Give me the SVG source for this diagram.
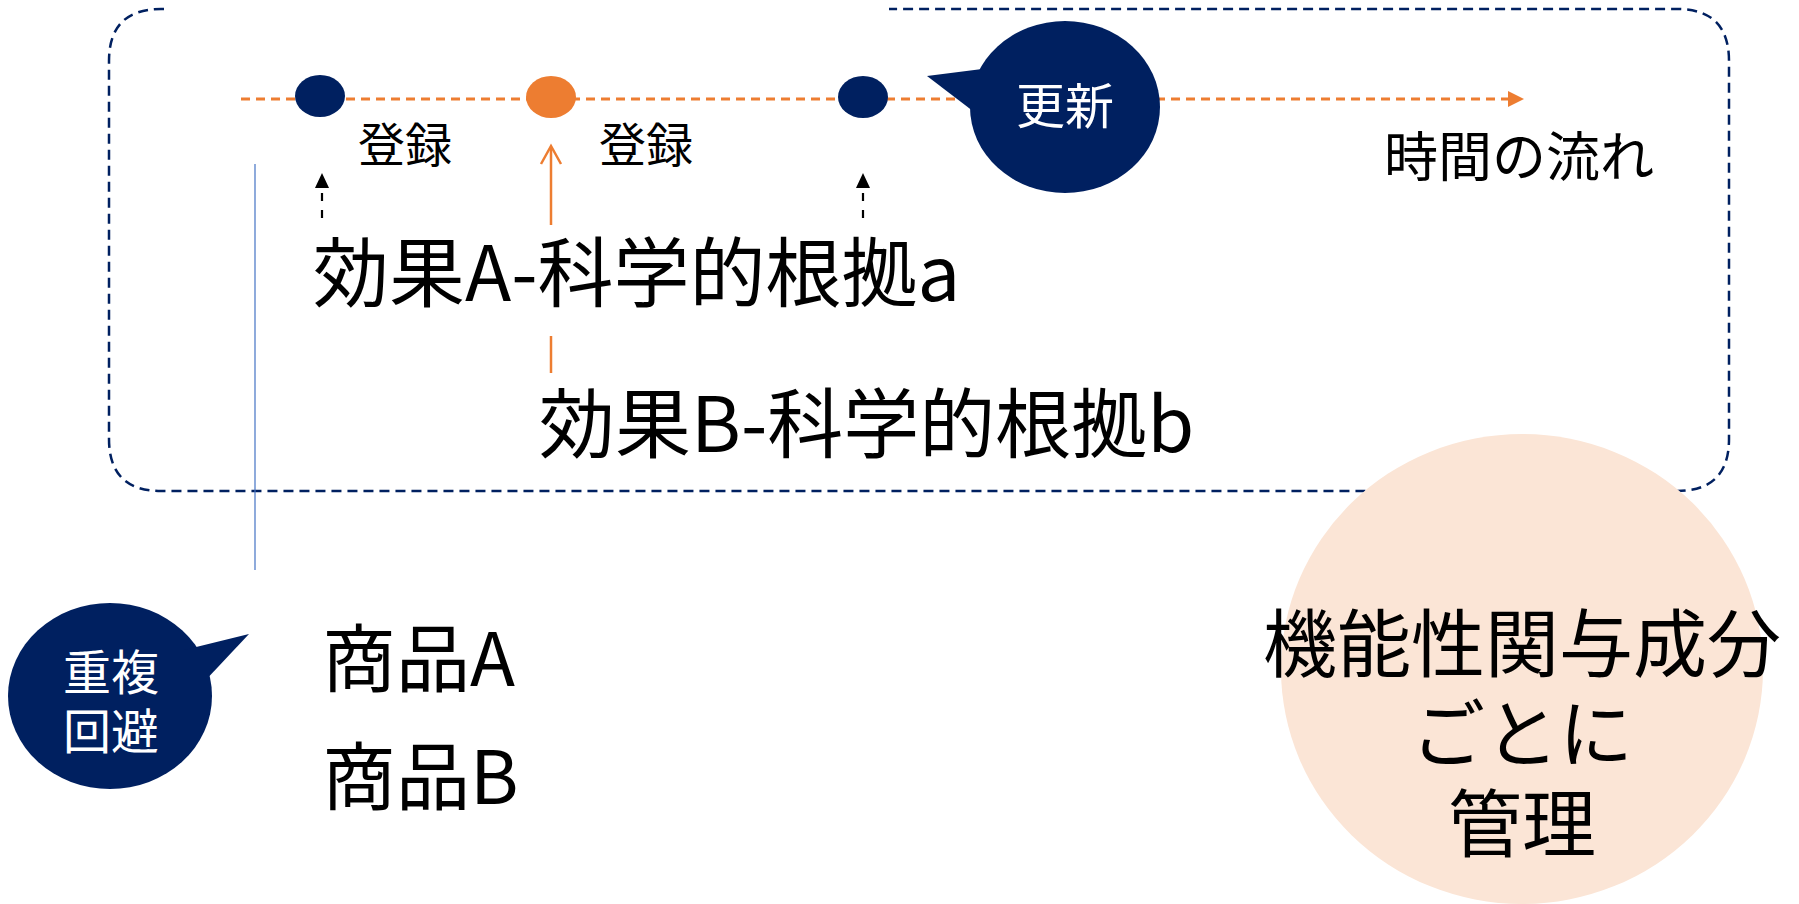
<svg xmlns="http://www.w3.org/2000/svg" width="1799" height="904" viewBox="0 0 1799 904">
<defs>
<style>
.jp{font-family:"Noto Sans CJK JP","Noto Sans",sans-serif;}
.navy{fill:#002060;}
.orange{fill:#ED7D31;}
.lbl{font-size:47px;fill:#000;text-anchor:middle;}
.big{font-size:76px;fill:#000;}
.wt{fill:#fff;text-anchor:middle;}
</style>
</defs>
<rect width="1799" height="904" fill="#fff"/>

<g id="frame">
<path d="M164,9 L161,9 Q109,9 109,61 L109,439 Q109,491 161,491 L1677,491 Q1729,491 1729,439 L1729,61 Q1729,9 1677,9 L889,9" fill="none" stroke="#002060" stroke-width="2.5" stroke-dasharray="10 6"/>
</g>

<g id="connectors">
<line x1="241" y1="99" x2="1510" y2="99" stroke="#ED7D31" stroke-width="3" stroke-dasharray="9 6"/>
<path d="M1508,91 L1524,99 L1508,107 Z" fill="#ED7D31"/>
<line x1="322" y1="218" x2="322" y2="186" stroke="#000" stroke-width="2.2" stroke-dasharray="8 9"/>
<path d="M315,188 L322,173 L329,188 Z" fill="#000"/>
<line x1="863" y1="218" x2="863" y2="186" stroke="#000" stroke-width="2.2" stroke-dasharray="8 9"/>
<path d="M856,188 L863,173 L870,188 Z" fill="#000"/>
<line x1="551" y1="225" x2="551" y2="147" stroke="#ED7D31" stroke-width="2.5"/>
<path d="M541,164 L551,146 L561,164" fill="none" stroke="#ED7D31" stroke-width="2.5"/>
<line x1="551" y1="336" x2="551" y2="373" stroke="#ED7D31" stroke-width="2.5"/>
<line x1="255" y1="164" x2="255" y2="570" stroke="#4472C4" stroke-width="1.2"/>
</g>

<g id="dot1"><ellipse cx="320" cy="96" rx="25" ry="21" class="navy"/></g>
<g id="dot2"><ellipse cx="551" cy="97" rx="25" ry="21" class="orange"/></g>
<g id="dot3"><ellipse cx="863" cy="97" rx="25" ry="21" class="navy"/></g>

<g id="label-touroku1"><text x="405" y="162" class="jp lbl">登録</text></g>
<g id="label-touroku2"><text x="646" y="162" class="jp lbl">登録</text></g>

<g id="bubble-koushin">
<ellipse cx="1065" cy="107" rx="95" ry="86" class="navy"/>
<path d="M927,76 L990,68 L982,118 Z" class="navy"/>
<text x="1065" y="124" class="jp wt" font-size="49">更新</text>
</g>

<g id="label-time"><text x="1519" y="177" class="jp" font-size="54" fill="#000" text-anchor="middle">時間の流れ</text></g>

<g id="effectA"><text x="313" y="301" class="jp big">効果A-科学的根拠a</text></g>
<g id="effectB"><text x="539" y="452" class="jp big">効果B-科学的根拠b</text></g>

<g id="bubble-choufuku">
<ellipse cx="110" cy="696" rx="102" ry="93" class="navy"/>
<path d="M184,650 L249,634 L202,684 Z" class="navy"/>
<text x="111" y="690" class="jp wt" font-size="48">重複</text>
<text x="111" y="749" class="jp wt" font-size="48">回避</text>
</g>

<g id="productA"><text x="322" y="686" class="jp" font-size="74" fill="#000">商品A</text></g>
<g id="productB"><text x="322" y="804" class="jp" font-size="74" fill="#000">商品B</text></g>

<g id="circle-kanri">
<ellipse cx="1522" cy="669" rx="241" ry="235" fill="#FBE5D6"/>
<text x="1522" y="671" class="jp" font-size="74" fill="#000" text-anchor="middle">機能性関与成分</text>
<text x="1522" y="761" class="jp" font-size="74" fill="#000" text-anchor="middle">ごとに</text>
<text x="1522" y="851" class="jp" font-size="74" fill="#000" text-anchor="middle">管理</text>
</g>
</svg>
